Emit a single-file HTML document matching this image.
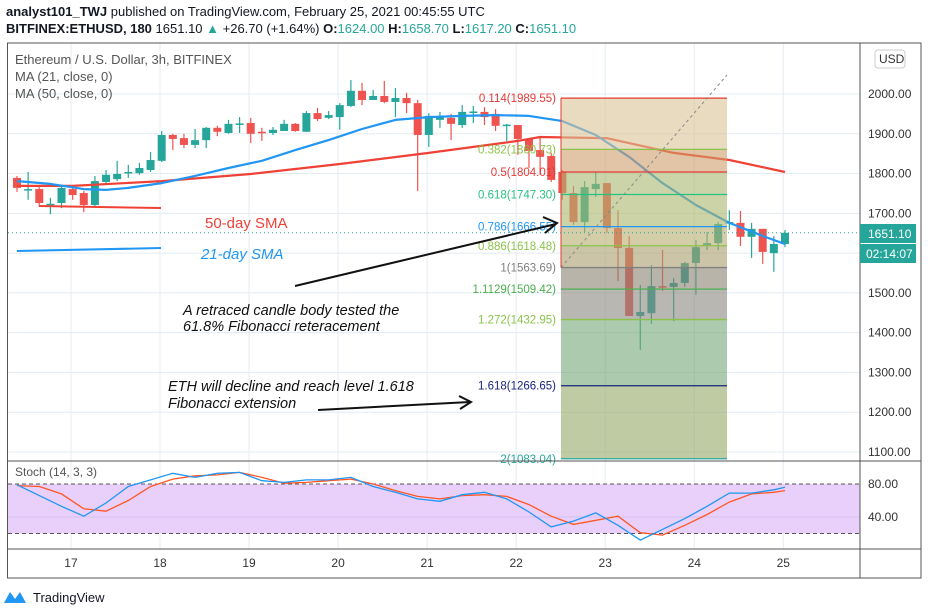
<!DOCTYPE html>
<html><head><meta charset="utf-8">
<style>
body{margin:0;background:#fff;width:928px;height:615px;overflow:hidden;font-family:"Liberation Sans",sans-serif}
#hdr1{position:absolute;left:6px;top:4px;font-size:13px;color:#131722}
#hdr2{position:absolute;left:6px;top:21px;font-size:13px;color:#131722}
.t{color:#26a69a}
svg{position:absolute;left:0;top:0}
</style></head><body>
<div id="hdr1"><b>analyst101_TWJ</b> published on TradingView.com, February 25, 2021 00:45:55 UTC</div>
<div id="hdr2"><b>BITFINEX:ETHUSD, 180</b> 1651.10 <span class="t">▲</span> +26.70 (+1.64%) <b>O:</b><span class="t">1624.00</span> <b>H:</b><span class="t">1658.70</span> <b>L:</b><span class="t">1617.20</span> <b>C:</b><span class="t">1651.10</span></div>
<svg id="c" width="928" height="615" xmlns="http://www.w3.org/2000/svg"></svg>
<script>
const priceTicks=[1100,1200,1300,1400,1500,1600,1700,1800,1900,2000];
const days=[17,18,19,20,21,22,23,24,25];
const opens=[1789,1759,1761,1721,1726,1761,1751,1721,1779,1786,1801,1801,1809,1832,1897,1889,1872,1884,1915,1902,1925,1927,1905,1902,1907,1925,1905,1952,1940,1942,1970,2008,1985,1995,1980,1990,1977,1897,1935,1940,1922,1955,1955,1950,1922,1922,1887,1859,1844,1804,1751,1678,1761,1776,1663,1613,1442,1449,1517,1515,1525,1575,1618,1625,1676,1676,1641,1661,1600,1623];
const highs=[1794,1804,1766,1739,1771,1769,1756,1794,1809,1832,1822,1827,1854,1907,1900,1900,1912,1917,1920,1935,1942,1940,1915,1917,1935,1927,1957,1965,1957,1977,2035,2028,2010,2033,2015,2003,1985,1952,1955,1950,1972,1970,1967,1962,1925,1922,1889,1892,1852,1809,1769,1781,1804,1776,1708,1643,1520,1570,1608,1537,1578,1633,1653,1678,1708,1706,1676,1661,1643,1658];
const lows=[1754,1734,1716,1698,1713,1734,1703,1718,1776,1781,1789,1797,1804,1829,1859,1864,1864,1864,1894,1900,1902,1877,1882,1897,1907,1905,1905,1932,1937,1910,1967,1972,1985,1977,1942,1952,1756,1867,1915,1884,1915,1927,1922,1907,1882,1847,1814,1797,1779,1734,1671,1653,1741,1651,1530,1442,1357,1422,1505,1429,1515,1495,1608,1608,1658,1618,1588,1573,1553,1615];
const closes=[1764,1761,1726,1724,1764,1746,1721,1781,1797,1799,1804,1814,1834,1897,1887,1872,1884,1915,1905,1925,1926,1900,1902,1910,1925,1907,1952,1937,1947,1972,2008,1985,1995,1980,1990,1977,1897,1945,1942,1925,1955,1956,1942,1920,1923,1887,1857,1842,1784,1751,1678,1766,1774,1663,1613,1442,1452,1517,1515,1525,1575,1615,1625,1673,1678,1641,1661,1603,1623,1651];
const ma21Idx=[0,3,6,8,10,13,16,19,22,25,28,31,34,37,40,43,46,49,52,55,58,61,64,67,69];
const ma21=[1781,1774,1761,1759,1764,1776,1794,1814,1832,1859,1884,1912,1935,1942,1945,1947,1945,1932,1897,1842,1776,1721,1676,1643,1623];
const ma50Idx=[0,5,13,21,29,37,45,47,53,59,64,69];
const ma50=[1769,1769,1781,1799,1824,1852,1882,1892,1889,1852,1834,1804];
const stochIdx=[0,2,4,6,8,10,12,14,16,18,20,22,24,26,28,30,32,34,36,38,40,42,44,46,48,50,52,54,56,58,60,62,64,66,68,69];
const stochK=[79,66,53,41,57,77,85,93,88,93,94,84,82,85,85,88,77,70,62,59,67,70,62,46,28,35,45,30,12,25,38,53,69,69,73,76];
const stochD=[78,77,68,50,47,60,77,86,90,91,94,88,81,82,84,86,80,72,65,62,66,67,65,55,41,31,36,41,21,18,30,43,58,68,70,72];
const fibRatios=["0.114","0.382","0.5","0.618","0.786","0.886","1","1.1129","1.272","1.618","2"];
const fibPrices=[1989.55,1860.73,1804.01,1747.30,1666.55,1618.48,1563.69,1509.42,1432.95,1266.65,1083.04];
const fibColors=["#e53935","#8bc34a","#e53935","#26c281","#2196f3","#8bc34a","#808080","#4caf50","#8bc34a","#1a237e","#26a69a"];
const fibFills=["#d9c396","#cf9f6a","#a8b86e","#aab56c","#b8ad6e","#a89c6c","#8a8270","#8b877e","#75a677","#95a966"];
const lastPrice=1651.10;

const S=document.getElementById('c');const NS='http://www.w3.org/2000/svg';
function mk(t,a,p){const e=document.createElementNS(NS,t);for(const k in a)e.setAttribute(k,a[k]);(p||S).appendChild(e);return e;}
const yP=p=>94+(2000-p)*0.3978;
const xI=i=>17+11.13*i;
const xD=d=>xI(4.85+(d-17)*8);
const yS=v=>484+(80-v)*0.825;

priceTicks.forEach(p=>{const l=mk('line',{x1:8,x2:860,y1:yP(p),y2:yP(p),stroke:'#e3ecf3'});


const t=mk('text',{x:868,y:yP(p)+4,'font-size':12,fill:'#333'});t.textContent=p.toFixed(2);

});
days.forEach(d=>{const l=mk('line',{x1:xD(d),x2:xD(d),y1:43,y2:549,stroke:'#e3ecf3'});


const t=mk('text',{x:xD(d),y:567,'font-size':12,fill:'#333','text-anchor':'middle'});t.textContent=d;

});

opens.forEach((o,i)=>{const c=closes[i],up=c>=o,col=up?'#26a69a':'#ef5350',x=xI(i);
const w=mk('line',{x1:x,x2:x,y1:yP(highs[i]),y2:yP(lows[i]),stroke:col,'stroke-width':1.2});


const t=Math.min(yP(o),yP(c)),h=Math.max(1.5,Math.abs(yP(o)-yP(c)));
const b=mk('rect',{x:x-4,y:t,width:8,height:h,fill:col});

});

function path(idx,vals,col,name){const d=idx.map((i,k)=>(k?'L':'M')+xI(i).toFixed(1)+','+yP(vals[k]).toFixed(1)).join(' ');
const p=mk('path',{d:d,fill:'none',stroke:col,'stroke-width':2.2,'stroke-linejoin':'round'});

}
path(ma50Idx,ma50,'#ef4136','ma50-line');
path(ma21Idx,ma21,'#2196f3','ma21-line');

const fx1=561,fx2=727;
for(let k=0;k<fibFills.length;k++){const y1=yP(fibPrices[k]),y2=Math.min(yP(fibPrices[k+1]),461);
const r=mk('rect',{x:fx1,y:y1,width:fx2-fx1,height:y2-y1,fill:fibFills[k],'fill-opacity':0.6});

}
fibPrices.forEach((p,k)=>{const y=yP(p);
if(y<461){const l=mk('line',{x1:fx1,x2:fx2,y1:y,y2:y,stroke:fibColors[k],'stroke-width':1.3});

}
const t=mk('text',{x:556,y:y+4,'font-size':11.5,fill:fibColors[k],'text-anchor':'end'});t.textContent=fibRatios[k]+'('+p.toFixed(2)+')';

});
const tl=mk('line',{x1:561,y1:yP(fibPrices[6]),x2:727,y2:75,stroke:'#888','stroke-dasharray':'3,3'});


mk('line',{x1:561,x2:561,y1:yP(fibPrices[0]),y2:yP(fibPrices[6]),stroke:'#e53935'});

const lp=mk('line',{x1:8,x2:860,y1:yP(lastPrice),y2:yP(lastPrice),stroke:'#26a69a','stroke-dasharray':'1,3'});



mk('line',{x1:39,y1:206,x2:161,y2:208,stroke:'#ef4136','stroke-width':2});
mk('line',{x1:17,y1:251,x2:161,y2:248,stroke:'#2196f3','stroke-width':2});
mk('line',{x1:295,y1:286,x2:556,y2:224,stroke:'#111','stroke-width':2});
mk('path',{d:'M543,217 L557,223 L545,233',fill:'none',stroke:'#111','stroke-width':2});
mk('line',{x1:318,y1:410,x2:470,y2:402,stroke:'#111','stroke-width':2});
mk('path',{d:'M459,396 L471,402 L460,409',fill:'none',stroke:'#111','stroke-width':2});
function txt(x,y,s,col,sz,it,name){const t=mk('text',{x:x,y:y,'font-size':sz,fill:col,'font-style':it?'italic':'normal'});t.textContent=s;

}
txt(205,228,'50-day SMA','#ef4136',15,false,'sma50-annotation');
txt(201,259,'21-day SMA','#2196f3',15,true,'sma21-annotation');
txt(183,315,'A retraced candle body tested the','#111',14.5,true,'retrace-annotation-1');
txt(183,331,'61.8% Fibonacci reteracement','#111',14.5,true,'retrace-annotation-2');
txt(168,391,'ETH will decline and reach level 1.618','#111',14.5,true,'decline-annotation-1');
txt(168,408,'Fibonacci extension','#111',14.5,true,'decline-annotation-2');
txt(15,64,'Ethereum / U.S. Dollar, 3h, BITFINEX','#555',13,false,'chart-title');
txt(15,81,'MA (21, close, 0)','#555',13,false,'ma21-legend');
txt(15,98,'MA (50, close, 0)','#555',13,false,'ma50-legend');

mk('rect',{x:8,y:yS(80),width:852,height:yS(20)-yS(80),fill:'#e8d0fb'});
mk('line',{x1:8,x2:860,y1:yS(40),y2:yS(40),stroke:'#d4c0ec'});
[80,20].forEach(v=>{const l=mk('line',{x1:8,x2:860,y1:yS(v),y2:yS(v),stroke:'#555','stroke-dasharray':'4,3'});

});
[80,40].forEach(v=>{const t=mk('text',{x:868,y:yS(v)+4,'font-size':12,fill:'#333'});t.textContent=v.toFixed(2);

});
function spath(vals,col,name){const d=stochIdx.map((i,k)=>(k?'L':'M')+xI(i).toFixed(1)+','+yS(vals[k]).toFixed(1)).join(' ');
const p=mk('path',{d:d,fill:'none',stroke:col,'stroke-width':1.3});

}
spath(stochD,'#ff5722','stoch-d-line');
spath(stochK,'#2196f3','stoch-k-line');
txt(15,476,'Stoch (14, 3, 3)','#555',12,false,'stoch-legend');

mk('rect',{x:7.5,y:43,width:913.5,height:535,fill:'none',stroke:'#555'});
mk('line',{x1:860,x2:860,y1:43,y2:578,stroke:'#555'});
mk('line',{x1:8,x2:921,y1:461,y2:461,stroke:'#555'});
mk('line',{x1:8,x2:921,y1:549,y2:549,stroke:'#555'});
const lb=mk('rect',{x:860,y:224,width:56,height:19,fill:'#26a69a'});


mk('rect',{x:860,y:244,width:56,height:19,fill:'#26a69a'});
txt(868,238,'1651.10','#fff',12,false,'last-price-text');
txt(866,258,'02:14:07','#fff',12,false,'countdown-text');
const ub=mk('rect',{x:875,y:50,width:30,height:18,rx:3,fill:'#fff',stroke:'#ccc'});


txt(879,63,'USD','#333',12,false,'currency-label');
mk('path',{d:'M4,603 L10,592 L15,599 L20,592 L26,603 Z',fill:'#2196f3'});
txt(33,602,'TradingView','#131722',13,false,'tradingview-logo');
</script>
</body></html>
